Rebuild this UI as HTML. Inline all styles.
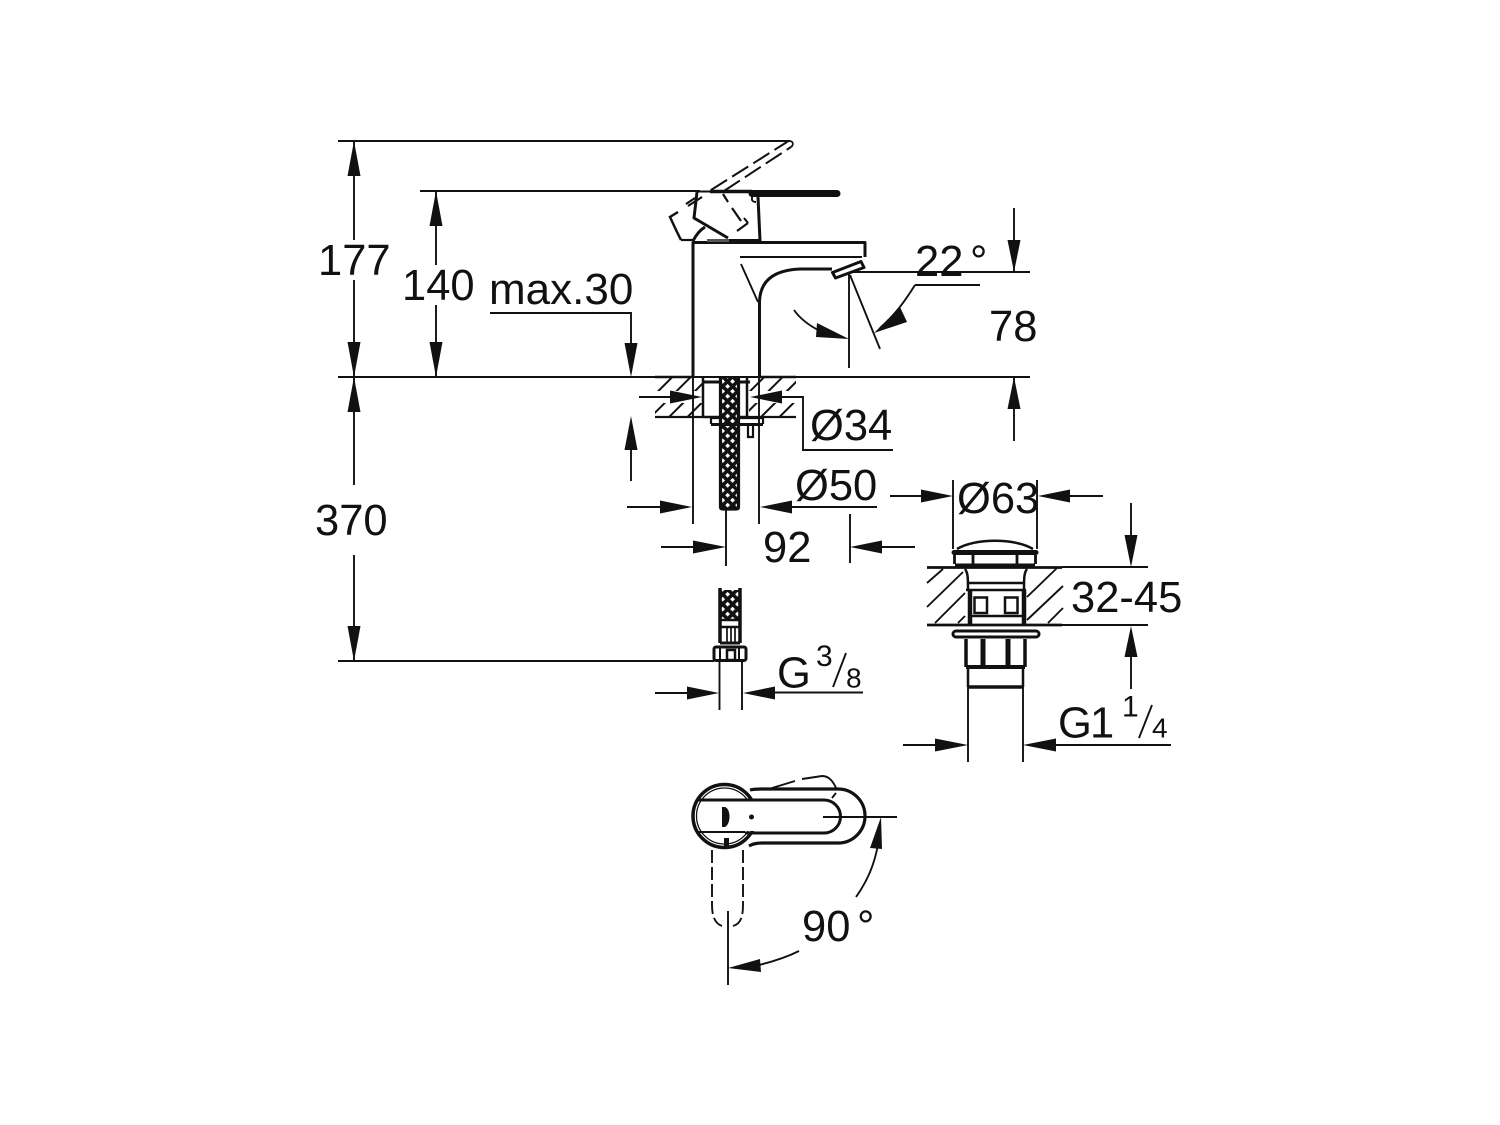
<!DOCTYPE html>
<html><head><meta charset="utf-8"><style>
html,body{margin:0;padding:0;background:#fff}
svg{display:block}
text{font-family:"Liberation Sans",sans-serif;font-size:43.5px;fill:#111}
.s{font-size:28px}
.n{font-size:30px}
</style></head><body>
<svg width="1500" height="1125" viewBox="0 0 1500 1125" xmlns="http://www.w3.org/2000/svg">
<defs>
<pattern id="h" width="13" height="13" patternUnits="userSpaceOnUse" patternTransform="rotate(-45)"><rect width="13" height="13" fill="#fff"/><rect x="0" y="0" width="13" height="2" fill="#111"/></pattern>
<pattern id="m" width="7" height="7" patternUnits="userSpaceOnUse" patternTransform="rotate(45)"><rect width="7" height="7" fill="#111"/><rect x="2" y="2" width="3.400" height="3.400" fill="#fff"/></pattern>
</defs>
<rect width="1500" height="1125" fill="#fff"/>

<!-- hatch -->
<rect x="655" y="378" width="141" height="13" fill="url(#h)"/>
<rect x="655" y="403" width="141" height="13" fill="url(#h)"/>
<rect x="703" y="378" width="46" height="39" fill="#fff"/>

<g fill="none" stroke="#111" stroke-width="1.900">
<!-- extension lines -->
<path d="M338 141H790M420 191H700M338 377H1030M338 661H714M850 272H1030"/>
<path d="M490 313H631V350M631 450V481M354 141V240M354 280V377M354 377V485M354 555V661M436 191V265M436 305V377"/>
<path d="M1014 208V272M1014 377V441M849 272V368M850 275L880 349M915 285H980"/>
<path d="M915 285C905 301 895 315 880 328M794 310C801 320 810 326 820 331"/>
<path d="M639 397H675M780 397H803V450H893M627 507H665M790 507H877M661 547H700M880 547H915M693 377V524M759 377V524M726 508V566M850 514V563"/>
<path d="M890 496H925M1068 496H1103M953 480V549M1037 480V549M1062 567H1148M1062 625H1148M1131 503V540M1131 655V689M903 745H940M1052 745H1171"/>
<path d="M655 693H690M772 692.500H863M719.500 660V710M742 660V710"/>
<path d="M823 817H897M856 897C868 880 874 865 878 845M728 911V985M799 951C785 958 772 962 755 966"/>
<path d="M1152 705L1139 738M846 653L833 687"/>
</g>

<!-- arrowheads -->
<g fill="#111">
<polygon points="354,141 347.500,176 360.500,176"/>
<polygon points="354,377 347.500,342 360.500,342"/>
<polygon points="354,377 347.500,412 360.500,412"/>
<polygon points="354,661 347.500,626 360.500,626"/>
<polygon points="436,191 429.500,226 442.500,226"/>
<polygon points="436,377 429.500,342 442.500,342"/>
<polygon points="631,377 624.500,343 637.500,343"/>
<polygon points="631,416 624.500,450 637.500,450"/>
<polygon points="1014,272 1007.500,240 1020.500,240"/>
<polygon points="1014,377 1007.500,409 1020.500,409"/>
<polygon points="849,339 817,323 816,337"/>
<polygon points="874,333 900,307 907,322"/>
<polygon points="702,397 670,390.500 670,403.500"/>
<polygon points="750,397 782,390.500 782,403.500"/>
<polygon points="692,507 660,500.500 660,513.500"/>
<polygon points="760,507 792,500.500 792,513.500"/>
<polygon points="726,547 693,540.500 693,553.500"/>
<polygon points="850,547 882,540.500 882,553.500"/>
<polygon points="953,496 921,489.500 921,502.500"/>
<polygon points="1038,496 1070,489.500 1070,502.500"/>
<polygon points="1131,567 1124.500,535 1137.500,535"/>
<polygon points="1131,626 1124.500,657 1137.500,657"/>
<polygon points="968,745 935,738.500 935,751.500"/>
<polygon points="1023,745 1056,738.500 1056,751.500"/>
<polygon points="719,693 687,686.500 687,699.500"/>
<polygon points="743,693 775,686.500 775,699.500"/>
<polygon points="881,817 870,848 882,849"/>
<polygon points="728,968 760,959 761,972"/>
</g>

<!-- faucet body -->
<g fill="none" stroke="#111" stroke-width="3" stroke-linejoin="round">
<path d="M693 377V242.500H865V257"/>
<path d="M759.500 377V303C759.500 280 775 270 800 269L832 269"/>
<path d="M712 240.500H760L758 197"/>
<path d="M697 192L694 218L728 238"/>
<path d="M693 241C696 235 700 230 705 227"/>
<path d="M832.500 272.500L861 261.500L864 267.500L835.500 278Z"/>
</g>
<g fill="none" stroke="#111" stroke-width="1.900">
<path d="M740 257H862M741 264L758 302"/>
<path d="M752 195V200Q753 202 756 202"/>
</g>
<path d="M697 191.500H712" stroke="#111" stroke-width="2" fill="none"/>
<path d="M710 191.500H752" stroke="#111" stroke-width="3.500" fill="none"/>
<path d="M752 193.500H837" stroke="#111" stroke-width="7" stroke-linecap="round" fill="none"/>
<rect x="707" y="239" width="22" height="3" fill="#555"/>
<!-- dashed lever -->
<g fill="none" stroke="#111" stroke-width="2" stroke-dasharray="19 6">
<path d="M711 190L787 142"/>
<path d="M724 191L791 147"/>
</g>
<path d="M787 142C792 139 795 144 791 147" fill="none" stroke="#111" stroke-width="1.800"/>
<g fill="none" stroke="#111" stroke-width="2.200">
<path d="M686 204L695 198M688 206L702 197"/>
<path d="M678 212L670 217L677 232L681 240" stroke-width="2.500"/>
<path d="M681 240H693"/>
<path d="M723 194L728 202M732 208L741 221M748 223L737 231"/>
<path d="M748 223L744 218"/>
</g>

<!-- hole and hose -->
<g fill="none" stroke="#111" stroke-width="2.500">
<path d="M703 378V417M747 378V417"/>
<path d="M703 382H750" stroke-width="3"/>
<path d="M703 417H749"/>
</g>
<rect x="720" y="378" width="19" height="130" fill="url(#m)"/>
<path d="M720.500 378V507Q720.500 509 723 509H736Q738.500 509 738.500 507V378" fill="none" stroke="#111" stroke-width="3.200"/>
<g fill="none" stroke="#111" stroke-width="2.200">
<path d="M655 377H692M760 377H796" stroke-width="2.500"/>
<path d="M655 417H703M749 417H796"/>
<path d="M711 418V424M763 418V424M711 418H720M740 418H763"/>
<path d="M711 424.500H763" stroke-width="3"/>
<path d="M748 425V437H753V425"/>
</g>

<!-- flexible hose bottom -->
<rect x="720" y="590" width="20" height="30" fill="url(#m)"/>
<g fill="none" stroke="#111">
<path d="M720 588V643M740 588V643" stroke-width="3.500"/>
<path d="M720 620H740" stroke-width="2.500"/>
<path d="M720 627H740" stroke-width="2.500"/>
<path d="M727 627V642M731 627V642M735 627V642" stroke-width="1.700"/>
<path d="M720 643H740" stroke-width="3"/>
<rect x="714" y="647" width="32" height="13.500" rx="2" stroke-width="3"/>
<path d="M720 647V660M739 647V660" stroke-width="2"/>
<rect x="727" y="650" width="8" height="10" stroke-width="2.500"/>
</g>

<!-- drain -->
<g fill="none" stroke="#111" stroke-width="1.900">
<path d="M927 583L943 569M927 607L963 572M935 623L965 593M958 623L965 616M1027 597L1057 568M1027 620L1063 586M1048 623L1063 608"/>
</g>
<g fill="none" stroke="#111" stroke-width="2.500">
<path d="M927 567.500H1062M927 625H1062" stroke-width="2.800"/>
<path d="M957 549C975 538 1015 538 1033 549" stroke-width="2.500"/>
<path d="M954 552.500H1036" stroke-width="5" stroke-linecap="round"/>
<path d="M954.500 555V564M1035.500 555V564M973 555V564M1017 555V564" stroke-width="2.800"/>
<path d="M955 566H1035" stroke-width="5"/>
<path d="M965 569C968 573 968 578 968 590M1027 569C1024 573 1024 578 1024 590"/>
<path d="M968 583H1024M966 590H1026" stroke-width="2.500"/>
<path d="M970 590V625M1024 590V625" stroke-width="4.500"/>
<rect x="974.500" y="597.500" width="12.500" height="15.500" stroke-width="2.500"/>
<rect x="1005" y="597.500" width="12.500" height="15.500" stroke-width="2.500"/>
<path d="M970 616H1024" stroke-width="2.500"/>
<rect x="953" y="631" width="86" height="6" rx="3" stroke-width="3"/>
<path d="M966 639V667M1025 639V667" stroke-width="3.500"/>
<path d="M983 639V665M1008 639V665" stroke-width="5"/>
<path d="M966 667H1025" stroke-width="4"/>
<path d="M968 668V687M1023 668V687"/>
<path d="M968 687H1023" stroke-width="3.500"/>
</g>
<g fill="none" stroke="#111" stroke-width="1.900"><path d="M968 687V762M1023 687V762"/></g>

<!-- top view -->
<circle cx="724.500" cy="816" r="31.500" fill="none" stroke="#111" stroke-width="3.500"/>
<circle cx="724.500" cy="816" r="28" fill="none" stroke="#111" stroke-width="1.300"/>
<rect x="735" y="801" width="26" height="30" fill="#fff"/>
<g fill="none" stroke="#111">
<path d="M750 790Q754 789 762 789H838A27 27 0 0 1 838 843H762Q754 843 749 846" stroke-width="3.200"/>
<path d="M698 800H824A16.500 16.500 0 0 1 824 833H745" stroke-width="3"/>
<path d="M698 832H745" stroke-width="1.900"/>
<path d="M772 788L795 781" stroke-width="1.900"/>
<path d="M802 779L822 776C830 776 834 783 837 790" stroke-width="1.900"/>
<path d="M832 798L836 793" stroke-width="1.900"/>
<path d="M712 850V905C712 918 716 924 722 926M743 850V905C743 918 740 924 733 926" stroke-width="1.900" stroke-dasharray="13 4"/>
</g>
<path d="M722 807H725C731 809 731 824 725 827H722Z" fill="#111"/>
<circle cx="751.500" cy="817" r="2.500" fill="#111"/>
<rect x="724" y="838" width="5" height="8" fill="#111"/>

<!-- labels -->
<text x="318" y="275">177</text>
<text x="402" y="300">140</text>
<text x="489" y="304" style="font-size:44px">max.30</text>
<text x="315" y="535">370</text>
<text x="915" y="276">22</text>
<text x="970" y="276">°</text>
<text x="989" y="341">78</text>
<text x="810" y="440">Ø34</text>
<text x="795" y="500">Ø50</text>
<text x="763" y="562">92</text>
<text x="957" y="513">Ø63</text>
<text x="1071" y="612">32-45</text>
<text x="777" y="687.500">G</text>
<text class="n" x="816" y="666">3</text>
<text class="s" x="846" y="687.500">8</text>
<text x="1058" y="737.500">G</text>
<text x="1090" y="737.500">1</text>
<text class="n" x="1122" y="716.500">1</text>
<text class="s" x="1152" y="737.500">4</text>
<text x="802" y="941">90</text>
<text x="857" y="941">°</text>
</svg>
</body></html>
